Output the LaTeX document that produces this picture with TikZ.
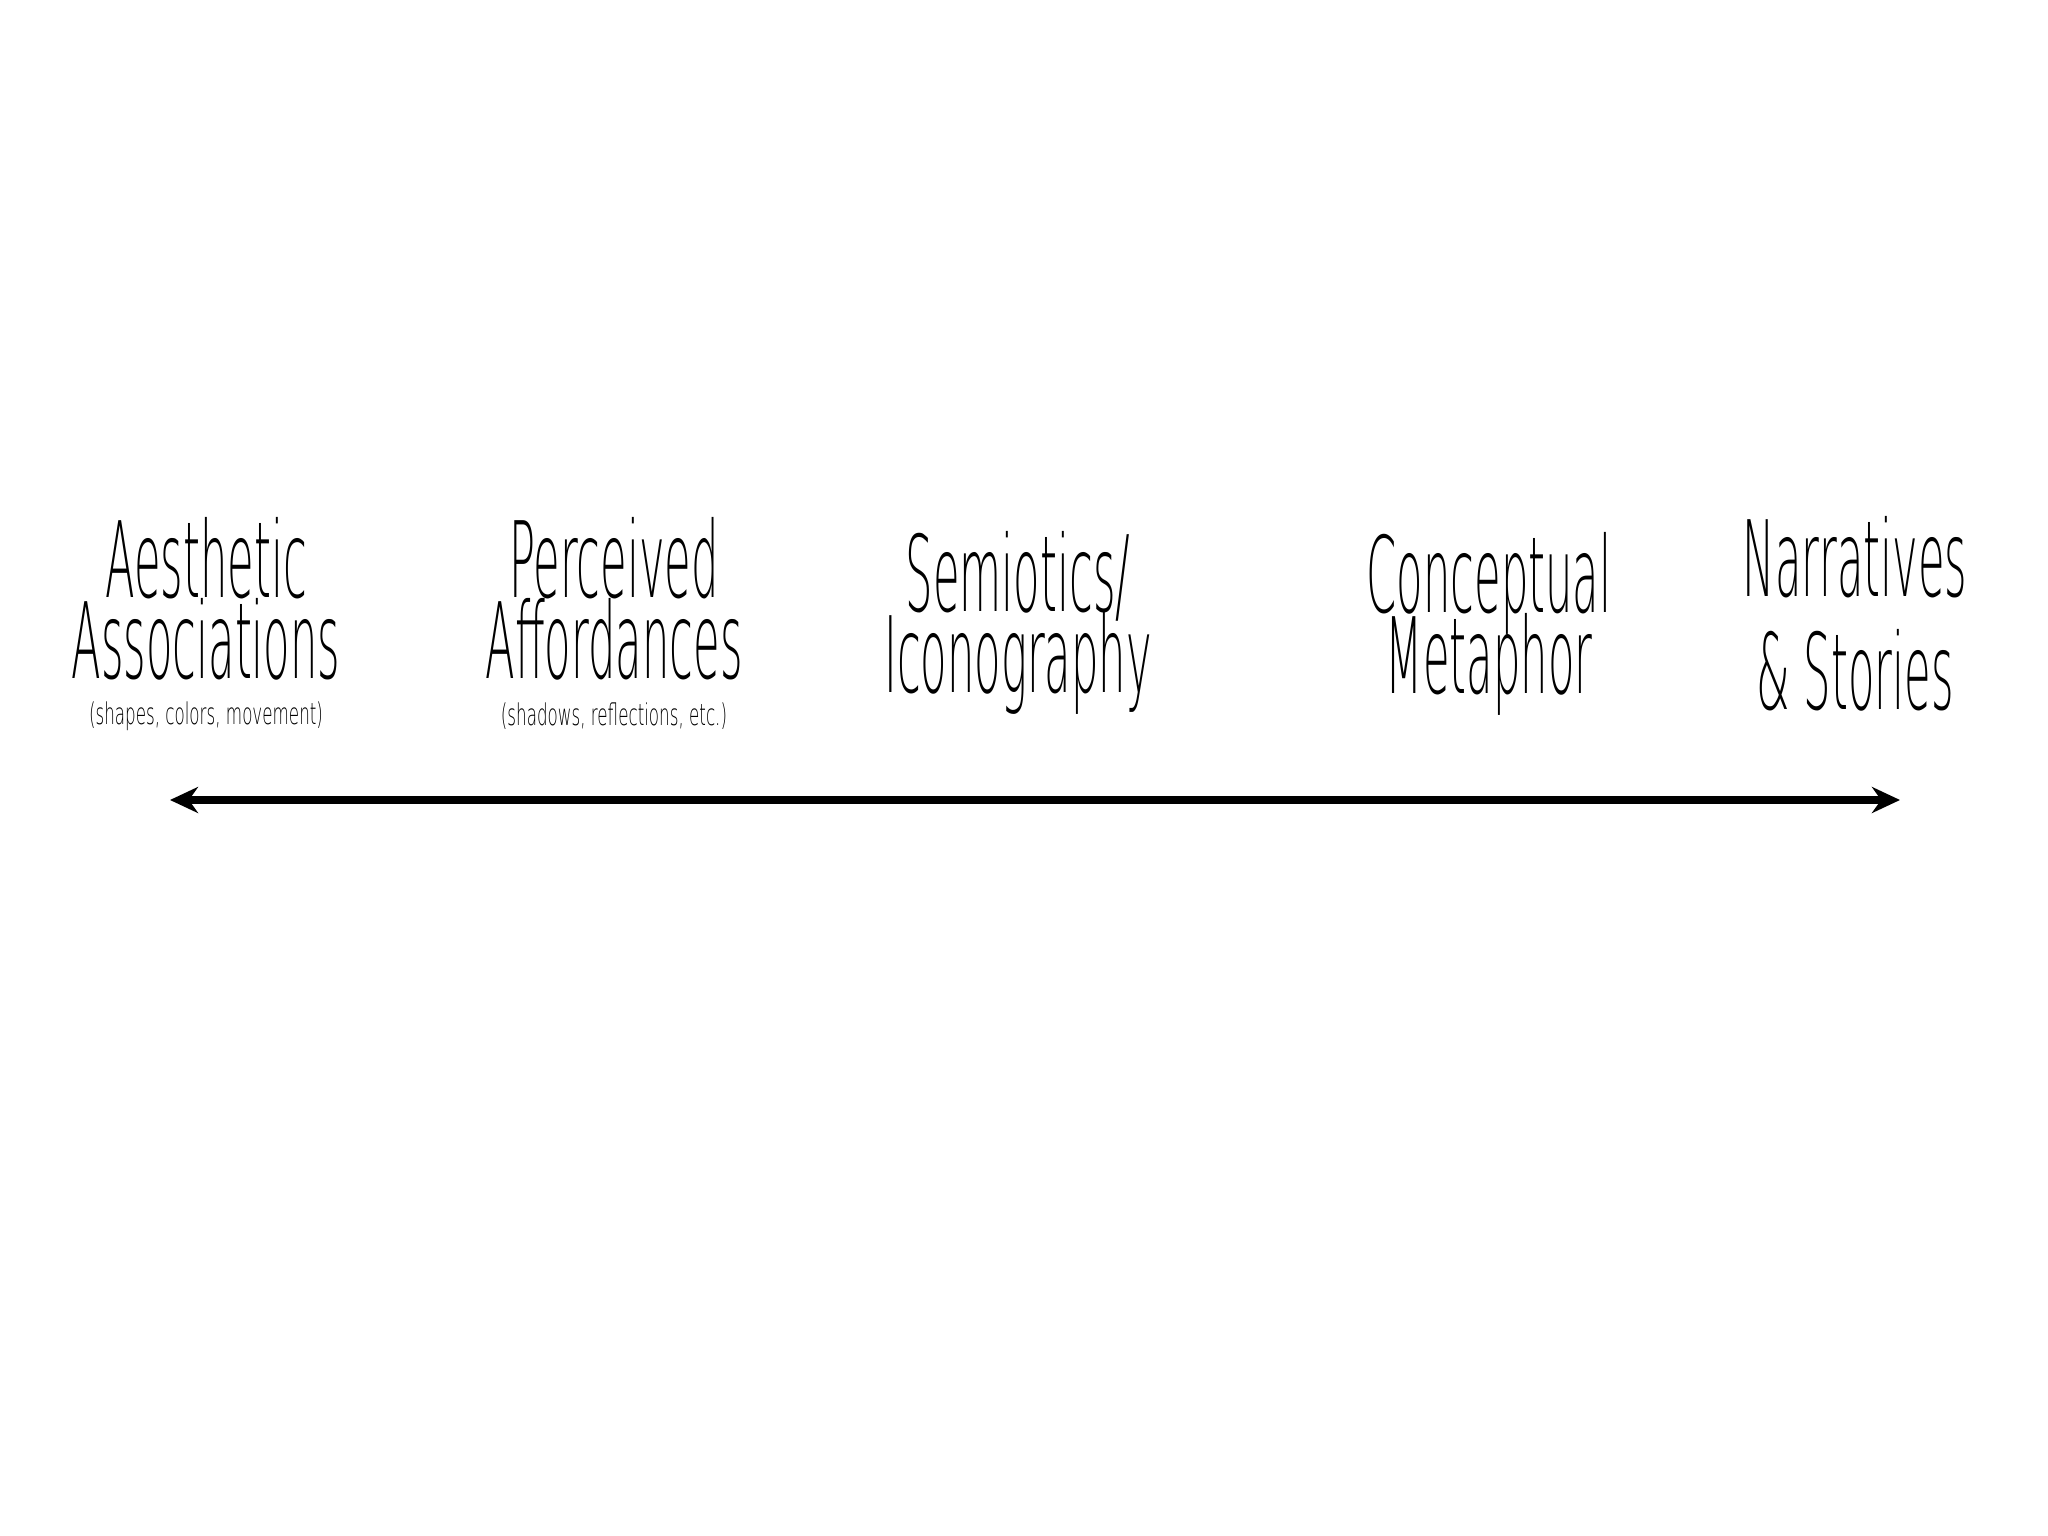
\documentclass[tikz,border=0pt]{standalone}
\usepackage{fontspec}
\usetikzlibrary{arrows.meta,positioning}
\newfontfamily\sketchfont[FakeStretch=0.41]{DejaVu Sans ExtraLight}
\newfontfamily\notefont[FakeStretch=0.56]{DejaVu Sans ExtraLight}
\newcommand\termfont{\sketchfont\fontsize{30}{23}\selectfont\lineskiplimit-50pt\relax}
\tikzset{
    term/.style={align=center,inner sep=0pt,font=\termfont},
    note/.style={inner sep=0pt,font=\notefont\fontsize{8.5}{10}\selectfont},
}
\begin{document}
\begin{tikzpicture}
    \useasboundingbox (0,0) rectangle (20.48,-15.36);
    \node[term] (aesth) at (2.06,-5.99) {Aesthetic\\Associations};
    \node[note] (aesthnote) at (2.06,-7.16) {(shapes, colors, movement)};
    \node[term] (perc) at (6.14,-5.99) {Perceived\\Affordances};
    \node[note] (percnote) at (6.14,-7.16) {(shadows, reflections, etc.)};
    \node[term] (semi) at (10.18,-6.23) {Semiotics/\\Iconography};
    \node[term] (conc) at (14.89,-6.24) {Conceptual\\Metaphor};
    \node[term,font=\sketchfont\fontsize{30}{32}\selectfont] (narr) at (18.55,-6.14) {Narratives\\\& Stories};
    % the scale
    \coordinate (lo) at (1.70,-8.00);
    \coordinate (hi) at (19.00,-8.00);
    \draw[line width=2.2pt,{Stealth[length=0.28cm,width=0.26cm]}-{Stealth[length=0.28cm,width=0.26cm]}] (lo) -- (hi);
\end{tikzpicture}
\end{document}
